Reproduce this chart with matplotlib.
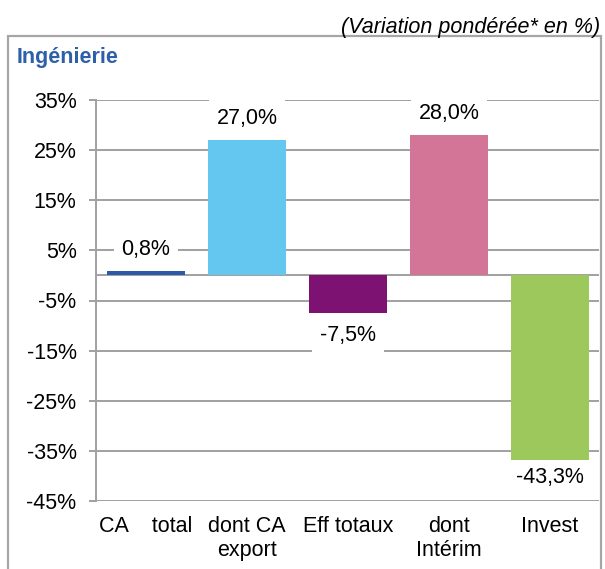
import matplotlib
matplotlib.use('Agg')
import matplotlib.pyplot as plt
from matplotlib.patches import Rectangle
from matplotlib.ticker import FuncFormatter

plt.rcParams['font.family'] = ['Liberation Sans', 'DejaVu Sans']

# Données de l'enquête (variation pondérée en %)
categories = ['CA    total', 'dont CA\nexport', 'Eff totaux', 'dont\nIntérim', 'Invest']
values = [0.8, 27.0, -7.5, 28.0, -43.3]
colors = ['#2B5BA8', '#63C7F0', '#7D1273', '#D37597', '#9DC85B']
yticks = [-45, -35, -25, -15, -5, 5, 15, 25, 35]

W, H = 605, 569
FS = 15.5
fig = plt.figure(figsize=(W / 100, H / 100), dpi=100)

# cadre gris autour du graphique
fig.patches.append(Rectangle((8 / W, -0.05), (601 - 8) / W, 1.05 - 36 / H,
                             transform=fig.transFigure, fill=False,
                             edgecolor='#A6A6A6', linewidth=1.6))

ax = fig.add_axes([96 / W, 1 - 501 / H, (599 - 96) / W, (501 - 100) / H])

grid_color = '#A0A0A0'
x = range(len(values))
ax.bar(x, values, width=0.77, color=colors, zorder=2)

ax.set_ylim(-45, 35)
ax.set_xlim(-0.495, 4.485)
ax.set_yticks(yticks)
ax.yaxis.set_major_formatter(FuncFormatter(lambda v, p: f'{v:.0f}%'))
ax.yaxis.grid(True, color=grid_color, linewidth=1.4, zorder=0)
ax.axhline(0, color=grid_color, linewidth=1.4, zorder=1)
ax.set_axisbelow(True)

for s in ['top', 'right', 'bottom']:
    ax.spines[s].set_visible(False)
ax.spines['left'].set_color(grid_color)
ax.spines['left'].set_linewidth(1.4)
ax.tick_params(axis='y', colors=grid_color, length=5, width=1.4, labelsize=FS,
               labelcolor='black', pad=9)

ax.set_xticks(list(x))
ax.set_xticklabels(categories, fontsize=FS, linespacing=1.15)
ax.tick_params(axis='x', length=0, pad=11)

# étiquettes de valeur, gardées dans la zone de tracé
off = 4.4
for i, v in enumerate(values):
    if v >= 0:
        y = v + off
    else:
        y = max(v - off, -45 + off + 0.2)
    ax.text(i, y, f'{v:.1f}%'.replace('.', ','), ha='center', va='center',
            fontsize=FS, zorder=3,
            bbox=dict(facecolor='white', edgecolor='none', pad=5.5))

fig.text(17 / W, 1 - 58 / H, 'Ingénierie', fontsize=FS, fontweight='bold',
         color='#2E60AA', ha='left', va='center')
fig.text(600 / W, 1 - 27 / H, '(Variation pondérée* en %)', fontsize=FS,
         style='italic', ha='right', va='center')

fig.savefig('out.png', dpi=100)
